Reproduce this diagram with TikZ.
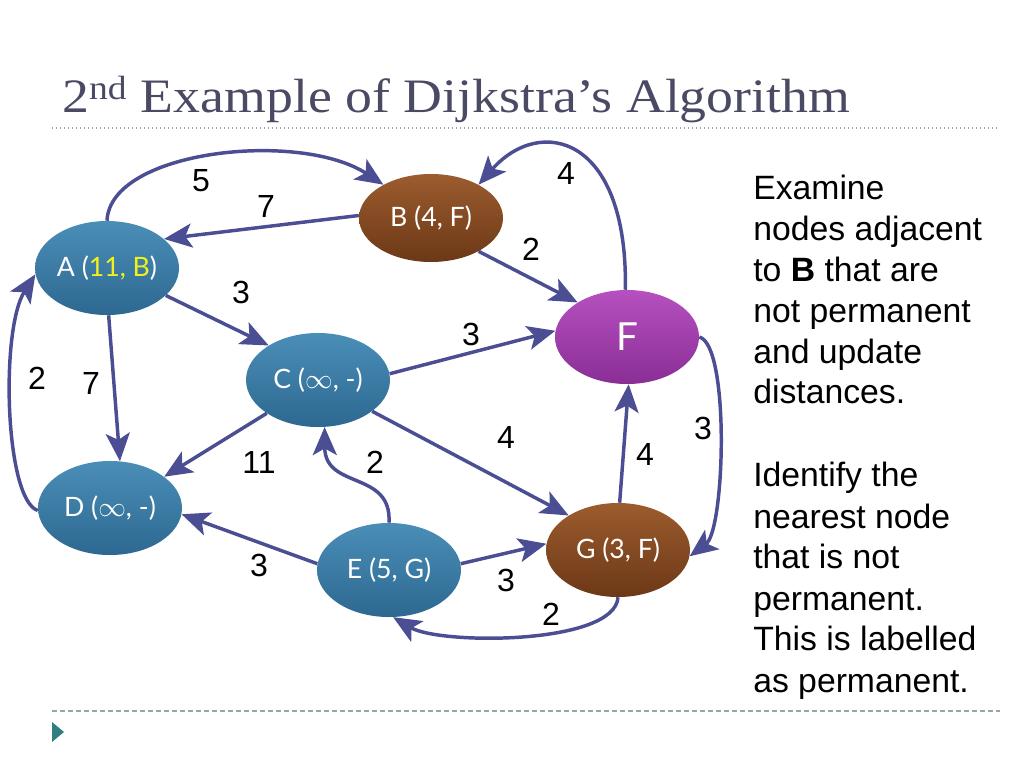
\documentclass[tikz,border=0pt]{standalone}
\usepackage{fontspec}
\setmainfont{Liberation Serif}
\newfontfamily\labfont{Liberation Sans}
\newfontfamily\vtxfont{Lato}
\usetikzlibrary{shapes.geometric,arrows.meta}
\definecolor{edgec}{HTML}{4B4E93}
\definecolor{titlec}{HTML}{4A4A64}
\definecolor{bluetop}{HTML}{4A8EB8}
\definecolor{bluebot}{HTML}{2D6890}
\definecolor{browntop}{HTML}{9C5C2E}
\definecolor{brownbot}{HTML}{6C3817}
\definecolor{purpletop}{HTML}{B650C0}
\definecolor{purplebot}{HTML}{8A2E96}
\definecolor{rulec}{HTML}{8FAAAA}
\definecolor{tric}{HTML}{2F7F80}
\definecolor{hl}{HTML}{F2F21A}
\tikzset{
  vtx/.style={ellipse, inner sep=0pt, minimum width=108pt, minimum height=70.5pt,
    text=white, font=\vtxfont\fontsize{20}{22}\selectfont},
  bluev/.style={vtx, top color=bluetop, bottom color=bluebot},
  brownv/.style={vtx, top color=browntop, bottom color=brownbot},
  purplev/.style={vtx, top color=purpletop, bottom color=purplebot},
  edge/.style={draw=edgec, line width=2.6pt, -{Stealth[length=21pt,width=18pt,inset=5pt]}},
  lbl/.style={font=\labfont\fontsize{24}{24}\selectfont, text=black},
  side/.style={font=\labfont\fontsize{25.3}{27}\selectfont, anchor=base west, inner sep=0pt},
}
\begin{document}
\begin{tikzpicture}[x=0.75pt,y=-0.75pt]
\useasboundingbox (0,0) rectangle (1024,768);
% title
\node[anchor=base west, inner sep=0pt, text=titlec, xscale=1.12, font=\fontsize{36}{38}\selectfont] (title) at (62,112)
  {2\textsuperscript{nd} Example of Dijkstra’s Algorithm};
\draw[rulec, line width=1pt, dotted] (52,128) -- (1000,128);
\draw[rulec, line width=1pt, dashed, dash pattern=on 4pt off 2pt] (52,711) -- (1000,711);
\fill[tric] (52,722) -- (64,732) -- (52,742) -- cycle;

% nodes
\node[bluev] (A) at (107,268) {A (\textcolor{hl}{11, B})};
\node[brownv, minimum height=66pt] (B) at (431,218) {B (4, F)};
\node[bluev] (C) at (318,380) {C ($\infty$, -)};
\node[purplev, font=\vtxfont\fontsize{29}{30}\selectfont] (F) at (627,337) {F};
\node[bluev] (D) at (110,508) {D ($\infty$, -)};
\node[bluev] (E) at (389,570) {E (5, G)};
\node[brownv] (G) at (618,550) {G (3, F)};

% edges
\draw[edge] (A.90) .. controls (110,150) and (300,130) .. (B.145);
\draw[edge] (B.178) -- (A.27);
\draw[edge] (B.-35) -- (F.145);
\draw[edge] (F.92) .. controls (628,135) and (540,115) .. (B.35);
\draw[edge] (A.-25) -- (C.145);
\draw[edge] (A.-88) -- (D.78);
\draw[edge] (D.182) .. controls (5,500) and (0,330) .. (A.185);
\draw[edge] (C.5) -- (F.175);
\draw[edge] (C.-30) -- (G.145);
\draw[edge] (C.213) -- (D.30);
\draw[edge] (E.90) .. controls (392,470) and (325,490) .. (C.-82);
\draw[edge] (E.175) -- (D.-5);
\draw[edge] (E.5) -- (G.175);
\draw[edge] (G.-90) .. controls (615,645) and (440,645) .. (E.-85);
\draw[edge] (G.88) -- (F.-88);
\draw[edge] (F.0) .. controls (730,345) and (725,530) .. (G.-5);

% labels
\node[lbl] (l1) at (201,181) {5};
\node[lbl] (l2) at (266,206) {7};
\node[lbl] (l3) at (566,173) {4};
\node[lbl] (l4) at (531,249) {2};
\node[lbl] (l5) at (241,292) {3};
\node[lbl] (l6) at (471,334) {3};
\node[lbl] (l7) at (37,378) {2};
\node[lbl] (l8) at (91,383) {7};
\node[lbl] (l9) at (506,437) {4};
\node[lbl] (l10) at (703,428) {3};
\node[lbl] (l11) at (645,454) {4};
\node[lbl] (l12) at (259,462) {11};
\node[lbl] (l13) at (375,462) {2};
\node[lbl] (l14) at (259,565) {3};
\node[lbl] (l15) at (506,580) {3};
\node[lbl] (l16) at (551,614) {2};

% side text
\node[side] (s1) at (753,199) {Examine};
\node[side] (s2) at (753,240) {nodes adjacent};
\node[side] (s3) at (753,281) {to \textbf{B} that are};
\node[side] (s4) at (753,322) {not permanent};
\node[side] (s5) at (753,363) {and update};
\node[side] (s6) at (753,403) {distances.};
\node[side] (s7) at (753,486) {Identify the};
\node[side] (s8) at (753,528) {nearest node};
\node[side] (s9) at (753,568) {that is not};
\node[side] (s10) at (753,610) {permanent.};
\node[side] (s11) at (753,650) {This is labelled};
\node[side] (s12) at (753,692) {as permanent.};
\end{tikzpicture}
\end{document}
